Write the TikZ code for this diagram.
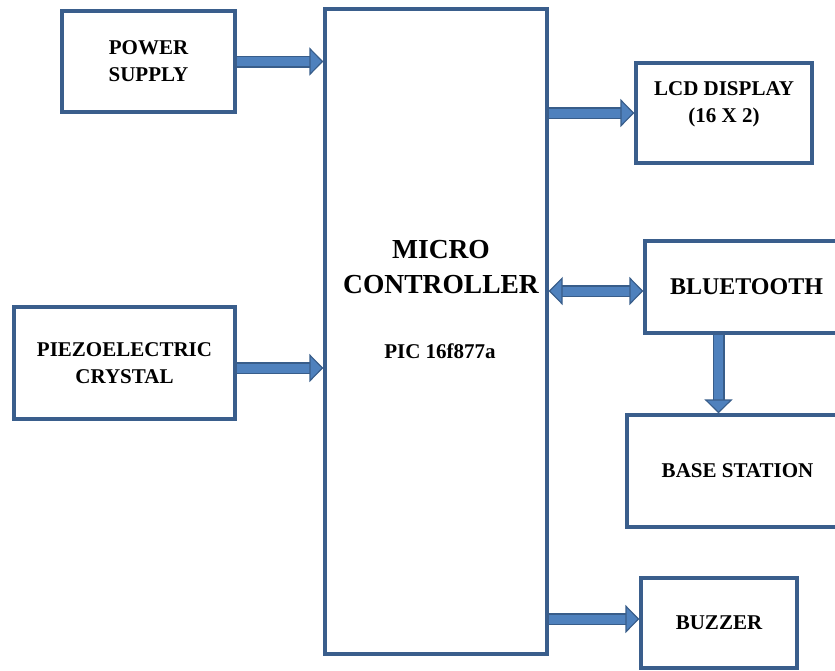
\documentclass[tikz,border=0pt]{standalone}
\usepackage{fontspec}
\setmainfont{Liberation Serif}
\usepackage{tikz}
\usetikzlibrary{arrows.meta, positioning}

\definecolor{boxline}{HTML}{3A5E8C}
\definecolor{arrfill}{HTML}{4F81BD}
\definecolor{arredge}{HTML}{385D8A}

\begin{document}
\begin{tikzpicture}[
  x=1pt, y=-1pt,
  blk/.style={rectangle, draw=boxline, line width=3.2pt, fill=white, align=center, inner sep=0pt, font=\bfseries\fontsize{21}{27}\selectfont},
  txt/.style={align=center, inner sep=0pt, font=\bfseries\fontsize{21}{27}\selectfont},
  fat/.style={draw=arrfill, line width=9pt, -{Triangle[length=14pt, width=28pt, color=arredge, fill=arrfill, line width=1.2pt]}, preaction={draw=arredge, line width=12pt, arrows=-, shorten >=12pt}},
  fatboth/.style={draw=arrfill, line width=9pt, {Triangle[length=14pt, width=28pt, color=arredge, fill=arrfill, line width=1.2pt]}-{Triangle[length=14pt, width=28pt, color=arredge, fill=arrfill, line width=1.2pt]}, preaction={draw=arredge, line width=12pt, arrows=-, shorten >=12pt, shorten <=12pt}}
]
\clip (0,0) rectangle (835,670);

\node[blk, minimum width=173pt, minimum height=101pt] (pwr) at (148.5,61.5) {POWER\\SUPPLY};
\node[blk, minimum width=221pt, minimum height=112pt] (piezo) at (124.5,363) {PIEZOELECTRIC\\CRYSTAL};

\node[blk, minimum width=222pt, minimum height=645pt] (mc) at (436,331.5) {};
\node[txt, font=\bfseries\fontsize{27.5}{35}\selectfont] (mctitle) at (441,267) {MICRO\\CONTROLLER};
\node[txt, anchor=base] (pic) at (440,358) {PIC 16f877a};

\node[blk, minimum width=176pt, minimum height=100pt] (lcd) at (724,113) {};
\node[txt] (lcdtxt) at ([yshift=9pt]lcd.center) {LCD DISPLAY\\(16 X 2)};
\node[blk, minimum width=203pt, minimum height=92pt, font=\bfseries\fontsize{24}{30}\selectfont] (bt) at (746.5,287) {BLUETOOTH};
\node[blk, minimum width=221pt, minimum height=112pt] (base) at (737.5,471) {BASE STATION};
\node[blk, minimum width=156pt, minimum height=90pt] (buz) at (719,623) {BUZZER};

\draw[fat] (pwr.east) -- (pwr.east -| mc.west);
\draw[fat] ([yshift=-5pt]piezo.east) -- ([yshift=-5pt]piezo.east -| mc.west);
\draw[fat] (lcd.west -| mc.east) -- (lcd.west);
\draw[fatboth] ([yshift=-4pt]bt.west -| mc.east) -- ([yshift=-4pt]bt.west);
\draw[fat] ([xshift=-28pt]bt.south) -- ([xshift=-28pt]bt.south |- base.north);
\draw[fat] ([yshift=4pt]buz.west -| mc.east) -- ([yshift=4pt]buz.west);

\end{tikzpicture}
\end{document}
